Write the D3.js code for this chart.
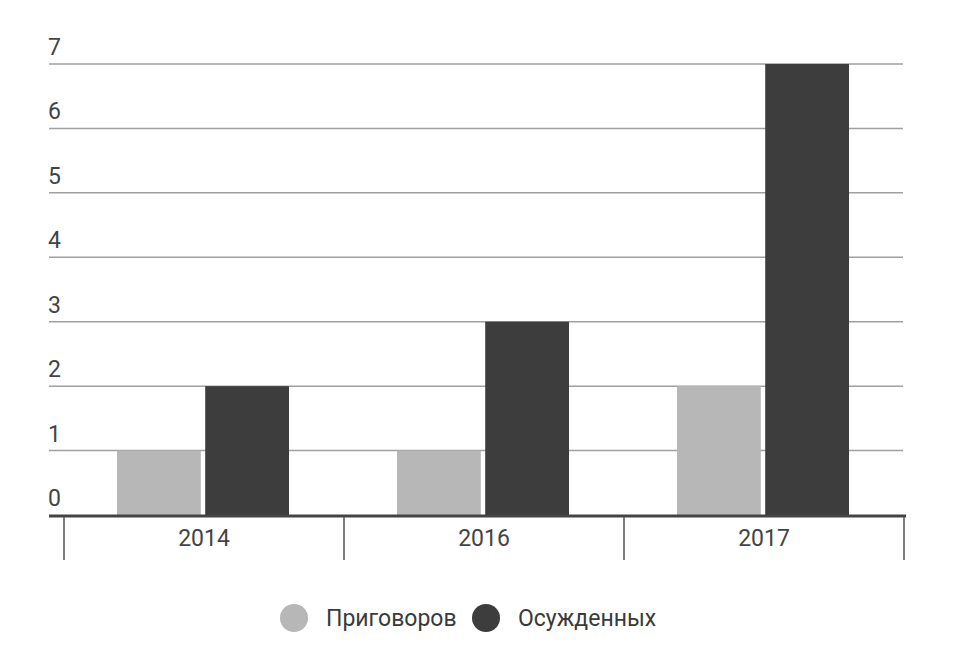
<!DOCTYPE html>
<html>
<head>
<meta charset="utf-8">
<script src="https://cdn.jsdelivr.net/npm/d3@7"></script>
<style>
  body { margin: 0; background: #fff; }
  text { font-family: Roboto, "Noto Sans", sans-serif; fill: #444; }
</style>
</head>
<body>
<svg id="chart" width="957" height="654"></svg>
<script>
var years = ["2014", "2016", "2017"];
var seriesNames = ["Приговоров", "Осужденных"];
var sentences = [1, 1, 2];
var convicted = [2, 3, 7];
var yTicks = [0, 1, 2, 3, 4, 5, 6, 7];
var colors = ["#b7b7b7", "#3d3d3d"];

var svg = d3.select("#chart");

var x0 = d3.scaleBand()
    .domain(years)
    .range([64, 904]);

var x1 = d3.scaleBand()
    .domain(seriesNames)
    .range([53, 225])
    .paddingInner(0.05);

var y = d3.scaleLinear()
    .domain([0, 7])
    .range([515, 64]);

var color = d3.scaleOrdinal()
    .domain(seriesNames)
    .range(colors);

var rows = years.map((yr, i) => ({ year: yr, values: [sentences[i], convicted[i]] }));

// gridlines
svg.append("g")
  .selectAll("line")
  .data(yTicks.filter(d => d > 0))
  .join("line")
    .attr("x1", 49)
    .attr("x2", 903)
    .attr("y1", d => y(d))
    .attr("y2", d => y(d))
    .attr("stroke", "#a0a0a0")
    .attr("stroke-width", 1.5);

// tick labels
svg.append("g")
  .selectAll("text")
  .data(yTicks)
  .join("text")
    .attr("x", 48)
    .attr("y", d => y(d) - 9)
    .attr("font-size", "23px")
    .text(d => d);

// bars
svg.append("g")
  .selectAll("g")
  .data(rows)
  .join("g")
    .attr("transform", d => `translate(${x0(d.year)},0)`)
  .selectAll("rect")
  .data(d => d.values.map((v, i) => ({ key: seriesNames[i], value: v })))
  .join("rect")
    .attr("x", d => x1(d.key))
    .attr("width", x1.bandwidth())
    .attr("y", d => y(d.value))
    .attr("height", d => y(0) - y(d.value))
    .attr("fill", d => color(d.key));

// category separators
svg.append("g")
  .selectAll("line")
  .data(years.map(d => x0(d)).concat([x0.range()[1]]))
  .join("line")
    .attr("x1", d => d)
    .attr("x2", d => d)
    .attr("y1", y(0))
    .attr("y2", 560)
    .attr("stroke", "#555")
    .attr("stroke-width", 1.5);

// baseline
svg.append("line")
    .attr("x1", 49)
    .attr("x2", 906)
    .attr("y1", y(0) + 1)
    .attr("y2", y(0) + 1)
    .attr("stroke", "#444")
    .attr("stroke-width", 3);

// category labels
svg.append("g")
  .selectAll("text")
  .data(years)
  .join("text")
    .attr("x", d => x0(d) + x0.bandwidth() / 2)
    .attr("y", 546)
    .attr("text-anchor", "middle")
    .attr("font-size", "23px")
    .text(d => d);

// legend
var legend = svg.append("g")
  .selectAll("g")
  .data(seriesNames)
  .join("g")
    .attr("transform", (d, i) => `translate(${[294, 486][i]},618)`);

legend.append("circle")
    .attr("r", 14)
    .attr("fill", d => color(d));

legend.append("text")
    .attr("x", 32)
    .attr("dy", "0.35em")
    .attr("font-size", "23px")
    .style("fill", "#3a3a3a")
    .text(d => d);
</script>
</body>
</html>
